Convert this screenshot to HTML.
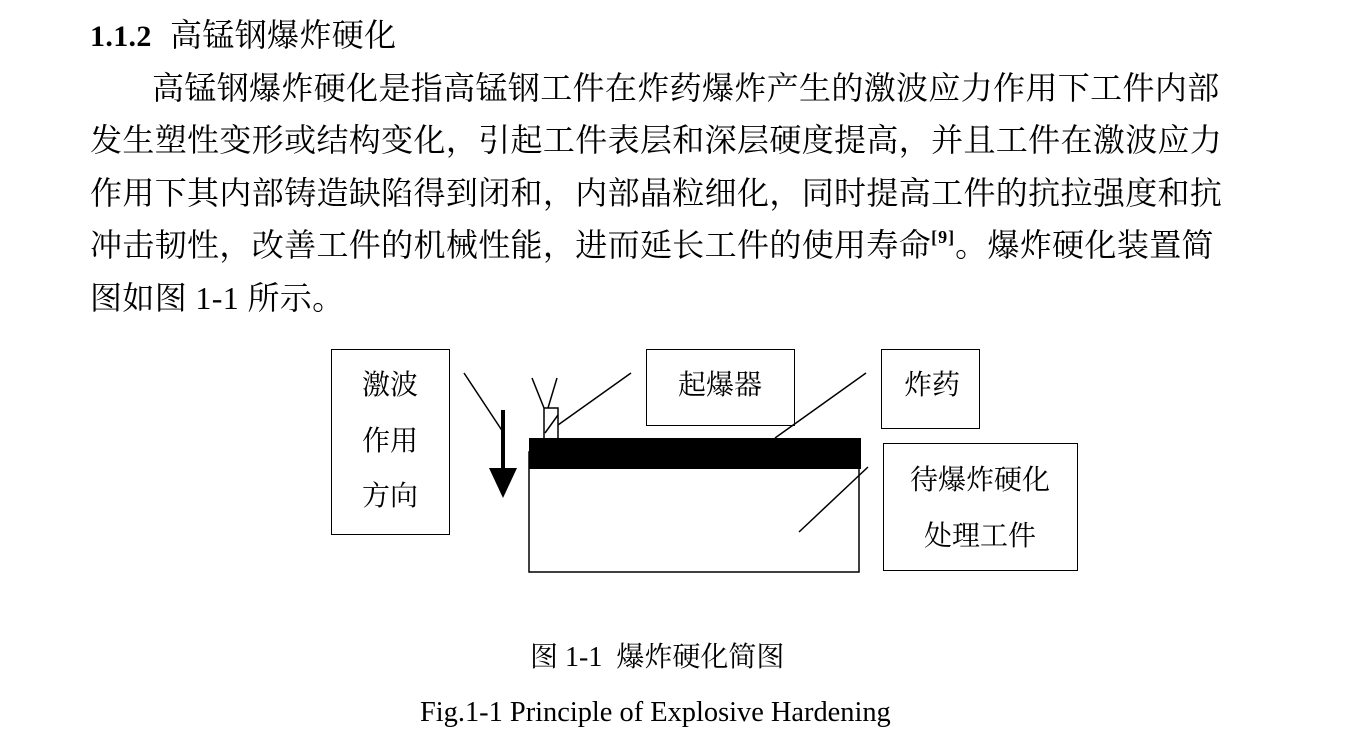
<!DOCTYPE html>
<html><head><meta charset="utf-8"><style>
body{margin:0;width:1347px;height:752px;background:#fff;position:relative;overflow:hidden;font-family:"Liberation Serif","Noto Serif CJK SC",serif;color:#000}
.t{position:absolute;white-space:nowrap;font-size:32px;line-height:32px;letter-spacing:0.35px}
.b{position:absolute;border:1.5px solid #000;box-sizing:border-box}
.l{position:absolute;font-size:28px;line-height:28px;white-space:nowrap}
</style></head><body>
<div class="t" style="left:90px;top:19px"><b style="font-size:30px">1.1.2</b><span style="position:absolute;left:80px;top:0">高锰钢爆炸硬化</span></div>
<div class="t" style="left:152px;top:72px">高锰钢爆炸硬化是指高锰钢工件在炸药爆炸产生的激波应力作用下工件内部</div>
<div class="t" style="left:90px;top:124px">发生塑性变形或结构变化，引起工件表层和深层硬度提高，并且工件在激波应力</div>
<div class="t" style="left:90px;top:177px">作用下其内部铸造缺陷得到闭和，内部晶粒细化，同时提高工件的抗拉强度和抗</div>
<div class="t" style="left:90px;top:229px">冲击韧性，改善工件的机械性能，进而延长工件的使用寿命<sup style="font-size:18px;line-height:0;vertical-align:13px;letter-spacing:1px"><b>[9]</b></sup>。爆炸硬化装置简</div>
<div class="t" style="left:90px;top:282px">图如图 1-1 所示。</div>

<div class="b" style="left:331px;top:349px;width:119px;height:186px"></div>
<div class="l" style="left:362px;top:372px">激波</div>
<div class="l" style="left:362px;top:428px">作用</div>
<div class="l" style="left:362px;top:483px">方向</div>

<div class="b" style="left:646px;top:349px;width:149px;height:77px"></div>
<div class="l" style="left:678px;top:372px">起爆器</div>
<div class="b" style="left:881px;top:349px;width:99px;height:80px"></div>
<div class="l" style="left:904px;top:372px">炸药</div>
<div class="b" style="left:883px;top:443px;width:195px;height:128px"></div>
<div class="l" style="left:910px;top:467px">待爆炸硬化</div>
<div class="l" style="left:924px;top:523px">处理工件</div>

<svg width="1347" height="752" style="position:absolute;left:0;top:0" xmlns="http://www.w3.org/2000/svg">
<g stroke="#000" stroke-width="1.5" fill="none">
<rect x="529" y="452" width="330" height="120"/>
<rect x="544" y="408" width="14" height="31"/>
<line x1="464" y1="373" x2="503" y2="432"/>
<line x1="532" y1="378" x2="544" y2="408"/>
<line x1="557" y1="378" x2="548" y2="408"/>
<line x1="545" y1="433" x2="558" y2="415"/>
<line x1="558" y1="425" x2="631" y2="373"/>
<line x1="775" y1="438" x2="866" y2="373"/>
<line x1="799" y1="532" x2="868" y2="467"/>
</g>
<rect x="529" y="438" width="332" height="31" fill="#000"/>
<line x1="503" y1="410" x2="503" y2="470" stroke="#000" stroke-width="4"/>
<polygon points="489,468 517,468 503,498" fill="#000"/>
</svg>

<div class="l" style="left:530px;top:644px">图 1-1&nbsp; 爆炸硬化简图</div>
<div class="l" style="left:420px;top:699px;font-size:28.4px">Fig.1-1 Principle of Explosive Hardening</div>
</body></html>
